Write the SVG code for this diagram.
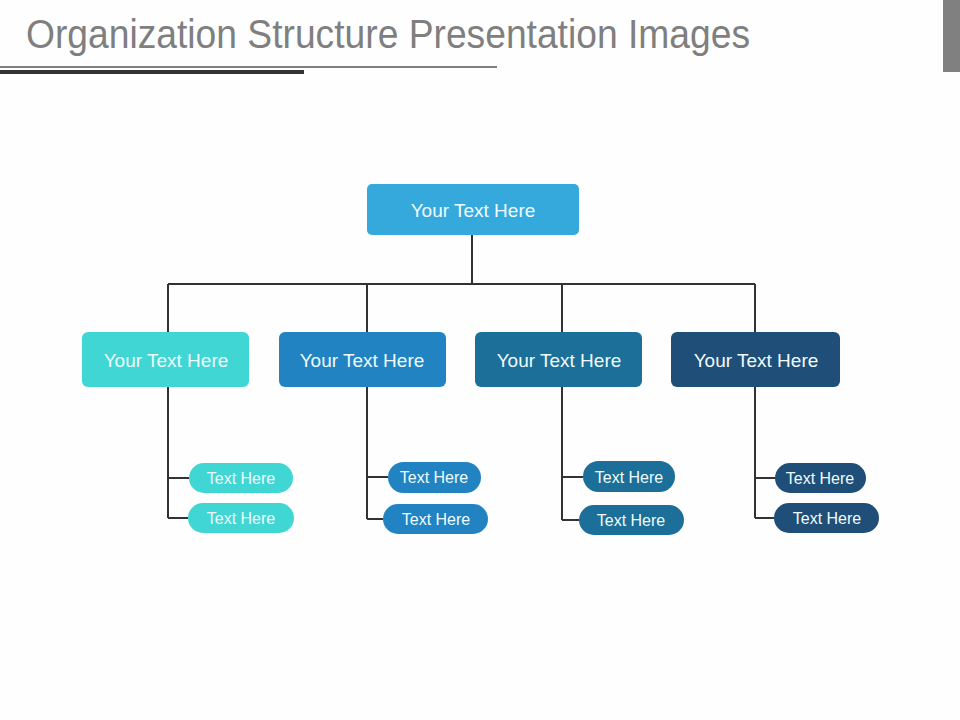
<svg xmlns="http://www.w3.org/2000/svg" width="960" height="720" viewBox="0 0 960 720">
<style>
.lbl{font-family:"Liberation Sans",Arial,sans-serif;fill:#effcff;text-anchor:middle;dominant-baseline:central}
.big{font-size:19px}
.sm{font-size:16px}
.ln{stroke:#333;stroke-width:2;fill:none}
</style>
<rect width="960" height="720" fill="#fefefe"/>
<g id="header">
<text x="26" y="48" font-family="Liberation Sans,Arial,sans-serif" font-size="40" fill="#7f7f7f" textLength="724" lengthAdjust="spacingAndGlyphs">Organization Structure Presentation Images</text>
<rect x="0" y="66" width="497" height="2" fill="#7f7f7f"/>
<rect x="0" y="70" width="304" height="4" fill="#333"/>
<rect x="943" y="0" width="17" height="72" fill="#808080"/>
</g>
<g id="connectors" class="ln">
<path d="M472 235V284M168 284H755M168 284V332M367 284V332M562 284V332M755 284V332"/>
<path d="M168 387V518M168 478H189M168 518H188"/>
<path d="M367 387V519M367 477H388M367 519H383"/>
<path d="M562 387V520M562 477H583M562 520H579"/>
<path d="M755 387V518M755 478H775M755 518H774"/>
</g>
<g id="top"><rect x="367" y="184" width="212" height="51" rx="5" fill="#35a9dc"/><text class="lbl big" x="473" y="210">Your Text Here</text></g>
<g id="n1"><rect x="82" y="332" width="167" height="55" rx="6" fill="#3fd6d3"/><text class="lbl big" x="166" y="360">Your Text Here</text></g>
<g id="n2"><rect x="279" y="332" width="167" height="55" rx="6" fill="#2183c2"/><text class="lbl big" x="362" y="360">Your Text Here</text></g>
<g id="n3"><rect x="475" y="332" width="167" height="55" rx="6" fill="#1b6f98"/><text class="lbl big" x="559" y="360">Your Text Here</text></g>
<g id="n4"><rect x="671" y="332" width="169" height="55" rx="6" fill="#1f4e78"/><text class="lbl big" x="756" y="360">Your Text Here</text></g>
<g id="n1a"><rect x="189" y="463" width="104" height="30" rx="15" fill="#3fd6d3"/><text class="lbl sm" x="241" y="478">Text Here</text></g>
<g id="n1b"><rect x="188" y="503" width="106" height="30" rx="15" fill="#3fd6d3"/><text class="lbl sm" x="241" y="518">Text Here</text></g>
<g id="n2a"><rect x="388" y="462" width="93" height="31" rx="15.5" fill="#2183c2"/><text class="lbl sm" x="434" y="477">Text Here</text></g>
<g id="n2b"><rect x="383" y="504" width="105" height="30" rx="15" fill="#2183c2"/><text class="lbl sm" x="436" y="519">Text Here</text></g>
<g id="n3a"><rect x="583" y="461" width="92" height="31" rx="15.5" fill="#1b6f98"/><text class="lbl sm" x="629" y="477">Text Here</text></g>
<g id="n3b"><rect x="579" y="505" width="105" height="30" rx="15" fill="#1b6f98"/><text class="lbl sm" x="631" y="520">Text Here</text></g>
<g id="n4a"><rect x="775" y="463" width="91" height="30" rx="15" fill="#1f4e78"/><text class="lbl sm" x="820" y="478">Text Here</text></g>
<g id="n4b"><rect x="774" y="503" width="105" height="30" rx="15" fill="#1f4e78"/><text class="lbl sm" x="827" y="518">Text Here</text></g>
</svg>
